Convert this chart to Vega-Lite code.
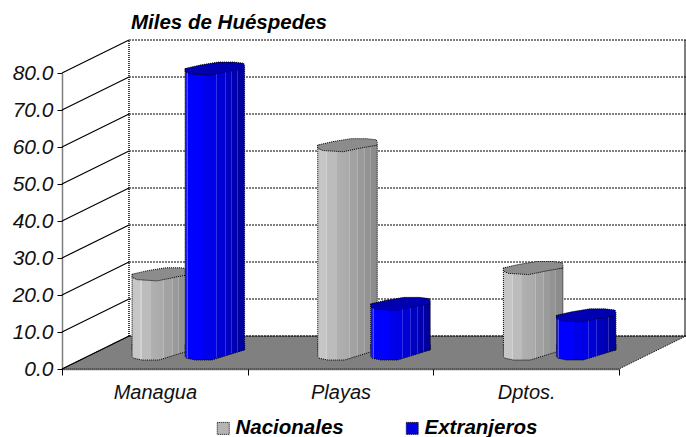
{
"$schema":"https://vega.github.io/schema/vega-lite/v6.json",
"autosize":{"type":"none"},
"padding":{"left":62,"top":73,"right":67,"bottom":68},
"width":557,"height":296,
"background":"white",
"config":{"view":{"stroke":null},"font":"Liberation Sans","axisY":{"format":".1f","values":[0,10,20,30,40,50,60,70,80],"labelOverlap":false,"labelBound":false,"labelFlush":false,"grid":false,"labelFont":"Liberation Sans","labelFontSize":21,"labelFontStyle":"italic","labelColor":"#111111","labelPadding":4,"tickColor":"black","tickSize":5,"domainColor":"black","domainDash":[1,1],"domainWidth":1.5}},
"datasets":{
"huespedes":[
{"lugar":"Managua","serie":"Nacionales","miles":21.4},
{"lugar":"Managua","serie":"Extranjeros","miles":77.0},
{"lugar":"Playas","serie":"Nacionales","miles":56.3},
{"lugar":"Playas","serie":"Extranjeros","miles":13.4},
{"lugar":"Dptos.","serie":"Nacionales","miles":23.1},
{"lugar":"Dptos.","serie":"Extranjeros","miles":10.3}
],
"rejilla":[{"valor":0},{"valor":10},{"valor":20},{"valor":30},{"valor":40},{"valor":50},{"valor":60},{"valor":70},{"valor":80}]
},
"layer":[
{"data":{"values":[{"valor":0}]},
 "mark":{"type":"point","filled":true,"fill":"#808080","stroke":"black","strokeWidth":1,"strokeDash":[1,1],"opacity":1,"yOffset":-16.5,"size":389376,"shape":"M-1,.0529 L-.785,-.0529 L1,-.0529 L.785,.0529 Z","clip":false},
 "encoding":{"x":{"value":312},"y":{"field":"valor","type":"quantitative","title":null,"scale":{"domain":[0,80],"nice":false},"axis":{"values":[0,10,20,30,40,50,60,70,80],"format":".1f","labelOverlap":false}}}},
{"data":{"name":"rejilla"},
 "mark":{"type":"rule","color":"black","strokeWidth":1,"strokeDash":[2,1],"xOffset":67,"x2Offset":67,"yOffset":-33,"y2Offset":-33},
 "encoding":{"x":{"value":0},"x2":{"value":557},"y":{"field":"valor","type":"quantitative","title":null,"axis":{"values":[0,10,20,30,40,50,60,70,80],"format":".1f","labelOverlap":false}}}},
{"data":{"name":"rejilla"},
 "mark":{"type":"rule","color":"black","strokeWidth":1.2,"x2Offset":67,"y2Offset":-33},
 "encoding":{"x":{"value":0},"x2":{"value":0},"y":{"field":"valor","type":"quantitative","title":null,"axis":{"values":[0,10,20,30,40,50,60,70,80],"format":".1f","labelOverlap":false}},"y2":{"field":"valor"}}},
{"data":{"values":[{"valor":0,"tope":80}]},
 "mark":{"type":"rule","color":"black","strokeWidth":1.5,"strokeDash":[1,1],"xOffset":67,"yOffset":-33,"y2Offset":-33},
 "encoding":{"x":{"value":0},"y":{"field":"valor","type":"quantitative","title":null,"axis":{"values":[0,10,20,30,40,50,60,70,80],"format":".1f","labelOverlap":false}},"y2":{"field":"tope"}}},
{"data":{"values":[{"valor":0,"tope":80}]},
 "mark":{"type":"rule","color":"black","strokeWidth":1,"xOffset":623,"yOffset":-33,"y2Offset":-33},
 "encoding":{"x":{"value":0},"y":{"field":"valor","type":"quantitative","title":null,"axis":{"values":[0,10,20,30,40,50,60,70,80],"format":".1f","labelOverlap":false}},"y2":{"field":"tope"}}},

{"data":{"name":"huespedes"},"transform":[{"filter":"datum.serie==='Nacionales'"}],
 "mark":{"type":"bar","stroke":"black","strokeWidth":1,"strokeDash":[1,1],"width":59.5,"xOffset":7,"yOffset":-15.5,"y2Offset":-19,
 "fill":{"gradient":"linear","x1":0,"x2":1,"y1":0,"y2":0,"stops":[{"offset":0,"color":"#c6c6c6"},{"offset":0.14,"color":"#c6c6c6"},{"offset":0.14,"color":"#d2d2d2"},{"offset":0.16,"color":"#d2d2d2"},{"offset":0.16,"color":"#bcbcbc"},{"offset":0.32,"color":"#bcbcbc"},{"offset":0.32,"color":"#b0b0b0"},{"offset":0.525,"color":"#aaaaaa"},{"offset":0.525,"color":"#bababa"},{"offset":0.54,"color":"#bababa"},{"offset":0.54,"color":"#a2a2a2"},{"offset":0.665,"color":"#a2a2a2"},{"offset":0.665,"color":"#b2b2b2"},{"offset":0.68,"color":"#b2b2b2"},{"offset":0.68,"color":"#9a9a9a"},{"offset":0.775,"color":"#9a9a9a"},{"offset":0.775,"color":"#aaaaaa"},{"offset":0.79,"color":"#aaaaaa"},{"offset":0.79,"color":"#939393"},{"offset":0.875,"color":"#939393"},{"offset":0.875,"color":"#a2a2a2"},{"offset":0.89,"color":"#a2a2a2"},{"offset":0.89,"color":"#8c8c8c"},{"offset":1,"color":"#8c8c8c"}]}},
 "encoding":{"x":{"field":"lugar","type":"nominal","sort":null,"scale":{"paddingInner":0,"paddingOuter":0},"title":null,
  "axis":{"labelAngle":0,"tickBand":"extent","labelFont":"Liberation Sans","labelFontSize":20,"labelFontStyle":"italic","labelColor":"#111111","labelPadding":7,"tickColor":"black","tickSize":6,"domainColor":"black","domainDash":[1,1],"domainWidth":1.5}},
  "y":{"field":"miles","type":"quantitative","title":null,"axis":{"values":[0,10,20,30,40,50,60,70,80],"format":".1f","labelOverlap":false}},"y2":{"datum":0}}},
{"data":{"name":"huespedes"},"transform":[{"filter":"datum.serie==='Nacionales'"}],
 "mark":{"type":"point","filled":true,"opacity":1,"stroke":"black","strokeWidth":1,"strokeDash":[1,1],"size":3540,"xOffset":7,"yOffset":-15.5,
 "fill":{"gradient":"linear","x1":0,"x2":1,"y1":0,"y2":0,"stops":[{"offset":0,"color":"#c6c6c6"},{"offset":0.14,"color":"#c6c6c6"},{"offset":0.14,"color":"#d2d2d2"},{"offset":0.16,"color":"#d2d2d2"},{"offset":0.16,"color":"#bcbcbc"},{"offset":0.32,"color":"#bcbcbc"},{"offset":0.32,"color":"#b0b0b0"},{"offset":0.525,"color":"#aaaaaa"},{"offset":0.525,"color":"#bababa"},{"offset":0.54,"color":"#bababa"},{"offset":0.54,"color":"#a2a2a2"},{"offset":0.665,"color":"#a2a2a2"},{"offset":0.665,"color":"#b2b2b2"},{"offset":0.68,"color":"#b2b2b2"},{"offset":0.68,"color":"#9a9a9a"},{"offset":0.775,"color":"#9a9a9a"},{"offset":0.775,"color":"#aaaaaa"},{"offset":0.79,"color":"#aaaaaa"},{"offset":0.79,"color":"#939393"},{"offset":0.875,"color":"#939393"},{"offset":0.875,"color":"#a2a2a2"},{"offset":0.89,"color":"#a2a2a2"},{"offset":0.89,"color":"#8c8c8c"},{"offset":1,"color":"#8c8c8c"}]},
 "shape":"M-1,-.3 L-1,.1 L-.95,.16 L-.66,.22 L-.1,.22 L1,-.12 L1,-.3"},
 "encoding":{"x":{"field":"lugar","type":"nominal","sort":null},"y":{"datum":0,"type":"quantitative","title":null,"axis":{"values":[0,10,20,30,40,50,60,70,80],"format":".1f","labelOverlap":false}}}},
{"data":{"name":"huespedes"},"transform":[{"filter":"datum.serie==='Nacionales'"}],
 "mark":{"type":"point","filled":true,"opacity":1,"fill":"#8c8c8c","stroke":"black","strokeWidth":1,"strokeDash":[1,1],"size":3540,"xOffset":7,"yOffset":-15.5,
 "shape":"M-1,0 L-1,.1 L-.83,.18 L-.15,.22 L.53,.08 L1,0 L1,-.1 L.97,-.18 L.63,-.22 L.12,-.22 L-.49,-.12 L-.89,-.03 Z"},
 "encoding":{"x":{"field":"lugar","type":"nominal","sort":null},"y":{"field":"miles","type":"quantitative","title":null,"axis":{"values":[0,10,20,30,40,50,60,70,80],"format":".1f","labelOverlap":false}}}},

{"data":{"name":"huespedes"},"transform":[{"filter":"datum.serie==='Extranjeros'"}],
 "mark":{"type":"bar","stroke":"black","strokeWidth":1,"strokeDash":[1,1],"width":59.5,"xOffset":60,"yOffset":-15.5,"y2Offset":-19,
 "fill":{"gradient":"linear","x1":0,"x2":1,"y1":0,"y2":0,"stops":[{"offset":0,"color":"#1a1aff"},{"offset":0.03,"color":"#1a1aff"},{"offset":0.03,"color":"#5050ff"},{"offset":0.05,"color":"#5050ff"},{"offset":0.05,"color":"#0000ff"},{"offset":0.3,"color":"#0000ff"},{"offset":0.3,"color":"#0000ec"},{"offset":0.525,"color":"#0000e4"},{"offset":0.525,"color":"#3030e8"},{"offset":0.54,"color":"#3030e8"},{"offset":0.54,"color":"#0000d4"},{"offset":0.665,"color":"#0000d4"},{"offset":0.665,"color":"#3030d8"},{"offset":0.68,"color":"#3030d8"},{"offset":0.68,"color":"#0000c0"},{"offset":0.775,"color":"#0000c0"},{"offset":0.775,"color":"#3030c8"},{"offset":0.79,"color":"#3030c8"},{"offset":0.79,"color":"#0000b0"},{"offset":0.875,"color":"#0000b0"},{"offset":0.875,"color":"#3030b8"},{"offset":0.89,"color":"#3030b8"},{"offset":0.89,"color":"#0000a0"},{"offset":1,"color":"#0000a0"}]}},
 "encoding":{"x":{"field":"lugar","type":"nominal","sort":null},"y":{"field":"miles","type":"quantitative","title":null,"axis":{"values":[0,10,20,30,40,50,60,70,80],"format":".1f","labelOverlap":false}},"y2":{"datum":0}}},
{"data":{"name":"huespedes"},"transform":[{"filter":"datum.serie==='Extranjeros'"}],
 "mark":{"type":"point","filled":true,"opacity":1,"stroke":"black","strokeWidth":1,"strokeDash":[1,1],"size":3540,"xOffset":60,"yOffset":-15.5,
 "fill":{"gradient":"linear","x1":0,"x2":1,"y1":0,"y2":0,"stops":[{"offset":0,"color":"#1a1aff"},{"offset":0.03,"color":"#1a1aff"},{"offset":0.03,"color":"#5050ff"},{"offset":0.05,"color":"#5050ff"},{"offset":0.05,"color":"#0000ff"},{"offset":0.3,"color":"#0000ff"},{"offset":0.3,"color":"#0000ec"},{"offset":0.525,"color":"#0000e4"},{"offset":0.525,"color":"#3030e8"},{"offset":0.54,"color":"#3030e8"},{"offset":0.54,"color":"#0000d4"},{"offset":0.665,"color":"#0000d4"},{"offset":0.665,"color":"#3030d8"},{"offset":0.68,"color":"#3030d8"},{"offset":0.68,"color":"#0000c0"},{"offset":0.775,"color":"#0000c0"},{"offset":0.775,"color":"#3030c8"},{"offset":0.79,"color":"#3030c8"},{"offset":0.79,"color":"#0000b0"},{"offset":0.875,"color":"#0000b0"},{"offset":0.875,"color":"#3030b8"},{"offset":0.89,"color":"#3030b8"},{"offset":0.89,"color":"#0000a0"},{"offset":1,"color":"#0000a0"}]},
 "shape":"M-1,-.3 L-1,.1 L-.95,.16 L-.66,.22 L-.1,.22 L1,-.12 L1,-.3"},
 "encoding":{"x":{"field":"lugar","type":"nominal","sort":null},"y":{"datum":0,"type":"quantitative","title":null,"axis":{"values":[0,10,20,30,40,50,60,70,80],"format":".1f","labelOverlap":false}}}},
{"data":{"name":"huespedes"},"transform":[{"filter":"datum.serie==='Extranjeros'"}],
 "mark":{"type":"point","filled":true,"opacity":1,"fill":"#0000b0","stroke":"black","strokeWidth":1,"strokeDash":[1,1],"size":3540,"xOffset":60,"yOffset":-15.5,
 "shape":"M-1,0 L-1,.1 L-.83,.18 L-.15,.22 L.53,.08 L1,0 L1,-.1 L.97,-.18 L.63,-.22 L.12,-.22 L-.49,-.12 L-.89,-.03 Z"},
 "encoding":{"x":{"field":"lugar","type":"nominal","sort":null},"y":{"field":"miles","type":"quantitative","title":null,"axis":{"values":[0,10,20,30,40,50,60,70,80],"format":".1f","labelOverlap":false}}}},

{"data":{"values":[{"valor":80,"titulo":"Miles de Huéspedes"}]},
 "mark":{"type":"text","align":"left","baseline":"alphabetic","font":"Liberation Sans","fontSize":20.5,"fontWeight":"bold","fontStyle":"italic","color":"black","dx":69,"dy":-44},
 "encoding":{"x":{"value":0},"y":{"field":"valor","type":"quantitative","title":null,"axis":{"values":[0,10,20,30,40,50,60,70,80],"format":".1f","labelOverlap":false}},"text":{"field":"titulo"}}},

{"data":{"name":"huespedes"},
 "mark":{"type":"point","filled":true,"size":0,"opacity":0},
 "encoding":{"x":{"field":"lugar","type":"nominal","sort":null},"y":{"field":"miles","type":"quantitative","title":null,"axis":{"values":[0,10,20,30,40,50,60,70,80],"format":".1f","labelOverlap":false}},
 "fill":{"field":"serie","type":"nominal","title":null,"scale":{"domain":["Nacionales","Extranjeros"],"range":["#b4b4b4","#0000e0"]},
  "legend":{"orient":"none","legendX":151,"legendY":345,"direction":"horizontal","columns":2,"columnPadding":58,"symbolType":"square","symbolSize":144,"symbolOpacity":1,"symbolStrokeColor":"black","symbolStrokeWidth":1,"symbolDash":[1,1],"labelFont":"Liberation Sans","labelFontSize":20.5,"labelFontStyle":"italic","labelFontWeight":"bold","labelColor":"black","labelLimit":200,"labelOffset":2}}}}
]
}
